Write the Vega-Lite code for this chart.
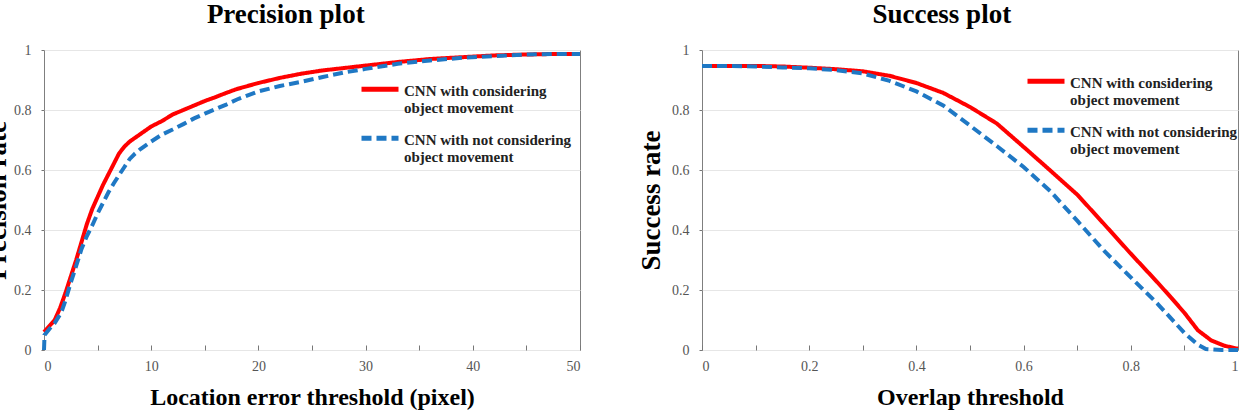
{
  "$schema": "https://vega.github.io/schema/vega-lite/v6.json",
  "background": "white",
  "padding": {"left": -17, "top": 0, "right": 0, "bottom": 0},
  "datasets": {
    "precision": [
      {"x": 0, "y": 0.06, "series": "CNN with considering object movement"},
      {"x": 0.5, "y": 0.08, "series": "CNN with considering object movement"},
      {"x": 1, "y": 0.10, "series": "CNN with considering object movement"},
      {"x": 1.5, "y": 0.14, "series": "CNN with considering object movement"},
      {"x": 2, "y": 0.19, "series": "CNN with considering object movement"},
      {"x": 2.5, "y": 0.245, "series": "CNN with considering object movement"},
      {"x": 3, "y": 0.30, "series": "CNN with considering object movement"},
      {"x": 3.5, "y": 0.36, "series": "CNN with considering object movement"},
      {"x": 4, "y": 0.42, "series": "CNN with considering object movement"},
      {"x": 4.5, "y": 0.47, "series": "CNN with considering object movement"},
      {"x": 5, "y": 0.51, "series": "CNN with considering object movement"},
      {"x": 5.5, "y": 0.55, "series": "CNN with considering object movement"},
      {"x": 6, "y": 0.585, "series": "CNN with considering object movement"},
      {"x": 6.5, "y": 0.62, "series": "CNN with considering object movement"},
      {"x": 7, "y": 0.655, "series": "CNN with considering object movement"},
      {"x": 7.5, "y": 0.678, "series": "CNN with considering object movement"},
      {"x": 8, "y": 0.695, "series": "CNN with considering object movement"},
      {"x": 9, "y": 0.72, "series": "CNN with considering object movement"},
      {"x": 10, "y": 0.745, "series": "CNN with considering object movement"},
      {"x": 11, "y": 0.763, "series": "CNN with considering object movement"},
      {"x": 12, "y": 0.785, "series": "CNN with considering object movement"},
      {"x": 13, "y": 0.80, "series": "CNN with considering object movement"},
      {"x": 14, "y": 0.815, "series": "CNN with considering object movement"},
      {"x": 15, "y": 0.83, "series": "CNN with considering object movement"},
      {"x": 16, "y": 0.843, "series": "CNN with considering object movement"},
      {"x": 17, "y": 0.857, "series": "CNN with considering object movement"},
      {"x": 18, "y": 0.87, "series": "CNN with considering object movement"},
      {"x": 19, "y": 0.88, "series": "CNN with considering object movement"},
      {"x": 20, "y": 0.89, "series": "CNN with considering object movement"},
      {"x": 22, "y": 0.907, "series": "CNN with considering object movement"},
      {"x": 24, "y": 0.921, "series": "CNN with considering object movement"},
      {"x": 26, "y": 0.932, "series": "CNN with considering object movement"},
      {"x": 28, "y": 0.94, "series": "CNN with considering object movement"},
      {"x": 30, "y": 0.948, "series": "CNN with considering object movement"},
      {"x": 33, "y": 0.96, "series": "CNN with considering object movement"},
      {"x": 36, "y": 0.97, "series": "CNN with considering object movement"},
      {"x": 39, "y": 0.976, "series": "CNN with considering object movement"},
      {"x": 42, "y": 0.982, "series": "CNN with considering object movement"},
      {"x": 45, "y": 0.985, "series": "CNN with considering object movement"},
      {"x": 48, "y": 0.987, "series": "CNN with considering object movement"},
      {"x": 50, "y": 0.987, "series": "CNN with considering object movement"},
      {"x": 0, "y": 0.0, "series": "CNN with not considering object movement"},
      {"x": 0.05, "y": 0.05, "series": "CNN with not considering object movement"},
      {"x": 0.5, "y": 0.07, "series": "CNN with not considering object movement"},
      {"x": 1, "y": 0.09, "series": "CNN with not considering object movement"},
      {"x": 1.6, "y": 0.124, "series": "CNN with not considering object movement"},
      {"x": 2, "y": 0.165, "series": "CNN with not considering object movement"},
      {"x": 2.5, "y": 0.225, "series": "CNN with not considering object movement"},
      {"x": 3, "y": 0.28, "series": "CNN with not considering object movement"},
      {"x": 3.5, "y": 0.337, "series": "CNN with not considering object movement"},
      {"x": 4, "y": 0.38, "series": "CNN with not considering object movement"},
      {"x": 4.5, "y": 0.415, "series": "CNN with not considering object movement"},
      {"x": 5, "y": 0.455, "series": "CNN with not considering object movement"},
      {"x": 5.5, "y": 0.49, "series": "CNN with not considering object movement"},
      {"x": 6, "y": 0.525, "series": "CNN with not considering object movement"},
      {"x": 6.5, "y": 0.555, "series": "CNN with not considering object movement"},
      {"x": 7, "y": 0.583, "series": "CNN with not considering object movement"},
      {"x": 7.5, "y": 0.61, "series": "CNN with not considering object movement"},
      {"x": 8, "y": 0.637, "series": "CNN with not considering object movement"},
      {"x": 8.5, "y": 0.655, "series": "CNN with not considering object movement"},
      {"x": 9, "y": 0.67, "series": "CNN with not considering object movement"},
      {"x": 10, "y": 0.695, "series": "CNN with not considering object movement"},
      {"x": 11, "y": 0.718, "series": "CNN with not considering object movement"},
      {"x": 12, "y": 0.735, "series": "CNN with not considering object movement"},
      {"x": 13, "y": 0.753, "series": "CNN with not considering object movement"},
      {"x": 14, "y": 0.772, "series": "CNN with not considering object movement"},
      {"x": 15, "y": 0.788, "series": "CNN with not considering object movement"},
      {"x": 16, "y": 0.803, "series": "CNN with not considering object movement"},
      {"x": 17, "y": 0.818, "series": "CNN with not considering object movement"},
      {"x": 18, "y": 0.835, "series": "CNN with not considering object movement"},
      {"x": 20, "y": 0.862, "series": "CNN with not considering object movement"},
      {"x": 22, "y": 0.88, "series": "CNN with not considering object movement"},
      {"x": 24, "y": 0.894, "series": "CNN with not considering object movement"},
      {"x": 26, "y": 0.91, "series": "CNN with not considering object movement"},
      {"x": 28, "y": 0.925, "series": "CNN with not considering object movement"},
      {"x": 30, "y": 0.937, "series": "CNN with not considering object movement"},
      {"x": 33, "y": 0.954, "series": "CNN with not considering object movement"},
      {"x": 36, "y": 0.965, "series": "CNN with not considering object movement"},
      {"x": 39, "y": 0.974, "series": "CNN with not considering object movement"},
      {"x": 42, "y": 0.98, "series": "CNN with not considering object movement"},
      {"x": 45, "y": 0.985, "series": "CNN with not considering object movement"},
      {"x": 48, "y": 0.987, "series": "CNN with not considering object movement"},
      {"x": 50, "y": 0.987, "series": "CNN with not considering object movement"}
    ],
    "success": [
      {"x": 0, "y": 0.947, "series": "CNN with considering object movement"},
      {"x": 0.05, "y": 0.947, "series": "CNN with considering object movement"},
      {"x": 0.1, "y": 0.947, "series": "CNN with considering object movement"},
      {"x": 0.15, "y": 0.945, "series": "CNN with considering object movement"},
      {"x": 0.2, "y": 0.941, "series": "CNN with considering object movement"},
      {"x": 0.25, "y": 0.936, "series": "CNN with considering object movement"},
      {"x": 0.3, "y": 0.929, "series": "CNN with considering object movement"},
      {"x": 0.35, "y": 0.914, "series": "CNN with considering object movement"},
      {"x": 0.4, "y": 0.89, "series": "CNN with considering object movement"},
      {"x": 0.45, "y": 0.857, "series": "CNN with considering object movement"},
      {"x": 0.5, "y": 0.81, "series": "CNN with considering object movement"},
      {"x": 0.55, "y": 0.755, "series": "CNN with considering object movement"},
      {"x": 0.6, "y": 0.677, "series": "CNN with considering object movement"},
      {"x": 0.65, "y": 0.598, "series": "CNN with considering object movement"},
      {"x": 0.7, "y": 0.518, "series": "CNN with considering object movement"},
      {"x": 0.75, "y": 0.42, "series": "CNN with considering object movement"},
      {"x": 0.8, "y": 0.321, "series": "CNN with considering object movement"},
      {"x": 0.85, "y": 0.225, "series": "CNN with considering object movement"},
      {"x": 0.875, "y": 0.175, "series": "CNN with considering object movement"},
      {"x": 0.9, "y": 0.124, "series": "CNN with considering object movement"},
      {"x": 0.925, "y": 0.066, "series": "CNN with considering object movement"},
      {"x": 0.95, "y": 0.032, "series": "CNN with considering object movement"},
      {"x": 0.975, "y": 0.014, "series": "CNN with considering object movement"},
      {"x": 1, "y": 0.004, "series": "CNN with considering object movement"},
      {"x": 0, "y": 0.947, "series": "CNN with not considering object movement"},
      {"x": 0.05, "y": 0.947, "series": "CNN with not considering object movement"},
      {"x": 0.1, "y": 0.945, "series": "CNN with not considering object movement"},
      {"x": 0.15, "y": 0.942, "series": "CNN with not considering object movement"},
      {"x": 0.2, "y": 0.939, "series": "CNN with not considering object movement"},
      {"x": 0.25, "y": 0.933, "series": "CNN with not considering object movement"},
      {"x": 0.3, "y": 0.922, "series": "CNN with not considering object movement"},
      {"x": 0.35, "y": 0.897, "series": "CNN with not considering object movement"},
      {"x": 0.4, "y": 0.862, "series": "CNN with not considering object movement"},
      {"x": 0.45, "y": 0.815, "series": "CNN with not considering object movement"},
      {"x": 0.5, "y": 0.748, "series": "CNN with not considering object movement"},
      {"x": 0.55, "y": 0.68, "series": "CNN with not considering object movement"},
      {"x": 0.6, "y": 0.61, "series": "CNN with not considering object movement"},
      {"x": 0.65, "y": 0.529, "series": "CNN with not considering object movement"},
      {"x": 0.7, "y": 0.431, "series": "CNN with not considering object movement"},
      {"x": 0.75, "y": 0.331, "series": "CNN with not considering object movement"},
      {"x": 0.8, "y": 0.242, "series": "CNN with not considering object movement"},
      {"x": 0.85, "y": 0.154, "series": "CNN with not considering object movement"},
      {"x": 0.9, "y": 0.057, "series": "CNN with not considering object movement"},
      {"x": 0.925, "y": 0.018, "series": "CNN with not considering object movement"},
      {"x": 0.94, "y": 0.003, "series": "CNN with not considering object movement"},
      {"x": 0.97, "y": 0.0, "series": "CNN with not considering object movement"},
      {"x": 1, "y": 0.0, "series": "CNN with not considering object movement"}
    ]
  },
  "config": {
    "font": "Liberation Serif",
    "view": {"stroke": "#7f7f7f", "strokeWidth": 1},
    "axis": {
      "labelFont": "Liberation Serif",
      "labelFontSize": 14,
      "labelColor": "#555555",
      "titleFont": "Liberation Serif",
      "titleFontWeight": "bold",
      "titleColor": "#000000",
      "domain": false,
      "tickColor": "#777777",
      "gridColor": "#e6e6e6",
      "gridWidth": 1
    },
    "title": {
      "font": "Liberation Serif",
      "fontSize": 27,
      "fontWeight": "bold",
      "color": "#000000",
      "anchor": "middle",
      "frame": "bounds",
      "offset": 14
    },
    "legend": {
      "labelFont": "Liberation Serif",
      "labelFontSize": 15,
      "labelFontWeight": "bold",
      "labelColor": "#222222",
      "labelLimit": 400,
      "rowPadding": 3,
      "labelOffset": 3,
      "symbolStrokeWidth": 5,
      "symbolSize": 1369,
      "symbolType": "M-1,-0.1H1"
    }
  },
  "spacing": 48,
  "resolve": {
    "scale": {"color": "independent", "strokeDash": "independent"},
    "legend": {"color": "independent", "strokeDash": "independent"}
  },
  "hconcat": [
    {
      "title": "Precision plot",
      "width": 536,
      "height": 300,
      "data": {"name": "precision"},
      "mark": {"type": "line", "strokeWidth": 4, "strokeCap": "butt"},
      "encoding": {
        "x": {
          "field": "x", "type": "quantitative",
          "scale": {"domain": [0, 50], "nice": false},
          "axis": {
            "title": "Location error threshold (pixel)",
            "values": [0, 5, 10, 15, 20, 25, 30, 35, 40, 45, 50],
            "labelExpr": "datum.value % 10 == 0 ? datum.label : ''",
            "grid": false, "tickSize": -5, "labelPadding": 14,
            "titleFontSize": 24, "titlePadding": 12
          }
        },
        "y": {
          "field": "y", "type": "quantitative",
          "scale": {"domain": [0, 1], "nice": false},
          "axis": {
            "title": "Precision rate",
            "values": [0, 0.2, 0.4, 0.6, 0.8, 1],
            "format": "~g",
            "grid": true, "tickSize": 3, "labelPadding": 10,
            "titleFontSize": 27, "titlePadding": 2
          }
        },
        "color": {
          "field": "series", "type": "nominal",
          "scale": {"domain": ["CNN with considering object movement", "CNN with not considering object movement"], "range": ["#ff0000", "#1f78c4"]},
          "legend": {
            "title": null, "orient": "none", "legendX": 315, "legendY": 20,
            "labelExpr": "datum.value == 'CNN with considering object movement' ? [' CNN with considering', 'object movement'] : [' CNN with not considering', 'object movement']"
          }
        },
        "strokeDash": {
          "field": "series", "type": "nominal",
          "scale": {"domain": ["CNN with considering object movement", "CNN with not considering object movement"], "range": [[1, 0], [10, 5]]},
          "legend": {
            "title": null, "orient": "none", "legendX": 315, "legendY": 20,
            "labelExpr": "datum.value == 'CNN with considering object movement' ? [' CNN with considering', 'object movement'] : [' CNN with not considering', 'object movement']"
          }
        }
      }
    },
    {
      "title": "Success plot",
      "width": 536,
      "height": 300,
      "data": {"name": "success"},
      "mark": {"type": "line", "strokeWidth": 4, "strokeCap": "butt"},
      "encoding": {
        "x": {
          "field": "x", "type": "quantitative",
          "scale": {"domain": [0, 1], "nice": false},
          "axis": {
            "title": "Overlap threshold",
            "values": [0, 0.1, 0.2, 0.3, 0.4, 0.5, 0.6, 0.7, 0.8, 0.9, 1],
            "labelExpr": "round(datum.value * 10) % 2 == 0 ? format(datum.value, '~g') : ''",
            "grid": false, "tickSize": -5, "labelPadding": 14,
            "titleFontSize": 24, "titlePadding": 12
          }
        },
        "y": {
          "field": "y", "type": "quantitative",
          "scale": {"domain": [0, 1], "nice": false},
          "axis": {
            "title": "Success rate",
            "values": [0, 0.2, 0.4, 0.6, 0.8, 1],
            "format": "~g",
            "grid": true, "tickSize": 3, "labelPadding": 10,
            "titleFontSize": 27, "titlePadding": 6
          }
        },
        "color": {
          "field": "series", "type": "nominal",
          "scale": {"domain": ["CNN with considering object movement", "CNN with not considering object movement"], "range": ["#ff0000", "#1f78c4"]},
          "legend": {
            "title": null, "orient": "none", "legendX": 323, "legendY": 12,
            "labelExpr": "datum.value == 'CNN with considering object movement' ? [' CNN with considering', 'object movement'] : [' CNN with not considering', 'object movement']"
          }
        },
        "strokeDash": {
          "field": "series", "type": "nominal",
          "scale": {"domain": ["CNN with considering object movement", "CNN with not considering object movement"], "range": [[1, 0], [10, 5]]},
          "legend": {
            "title": null, "orient": "none", "legendX": 323, "legendY": 12,
            "labelExpr": "datum.value == 'CNN with considering object movement' ? [' CNN with considering', 'object movement'] : [' CNN with not considering', 'object movement']"
          }
        }
      }
    }
  ]
}
